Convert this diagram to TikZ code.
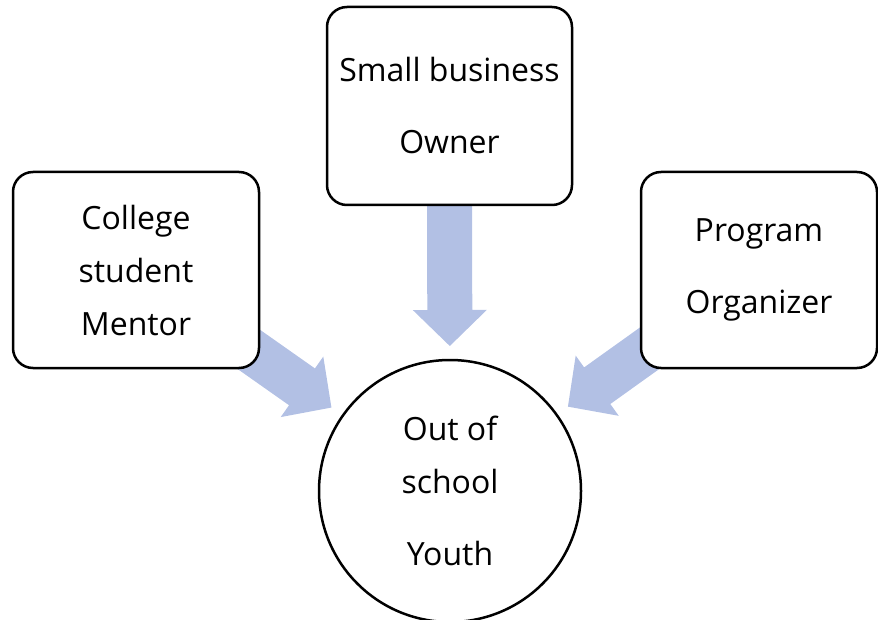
\documentclass[tikz,border=0pt]{standalone}
\usepackage{fontspec}
\setmainfont{Open Sans}
\usetikzlibrary{calc}
\pgfdeclarelayer{bg}
\pgfsetlayers{bg,main}
\definecolor{arrowfill}{RGB}{178,192,228}
\newcommand{\bigarrowfrom}[2]{%
  \coordinate (tip) at ($(#2.center)!145pt!(#1.center)$);
  \coordinate (hb) at ($(tip)!36pt!(#1.center)$);
  \fill[arrowfill]
    ($(#1.center)!22.5pt!90:(tip)$) -- ($(hb)!22.5pt!-90:(#1.center)$) --
    ($(hb)!37pt!-90:(#1.center)$) -- (tip) --
    ($(hb)!37pt!90:(#1.center)$) -- ($(hb)!22.5pt!90:(#1.center)$) --
    ($(#1.center)!22.5pt!-90:(tip)$) -- cycle;
}
\tikzset{
  box/.style={draw, fill=white, line width=2.5pt, rounded corners=20pt,
    inner sep=0pt, align=center, font=\fontsize{32}{53}\selectfont},
  circ/.style={draw, fill=white, circle, line width=2.5pt, minimum size=262pt,
    inner sep=0pt, align=center, font=\fontsize{32}{53}\selectfont}
}
\begin{document}
\begin{tikzpicture}[x=1pt,y=-1pt]
\useasboundingbox (0,0) rectangle (878,620);
\node[box, minimum width=246pt, minimum height=196pt] (mentor) at (136,270) {College\\student\\Mentor};
\node[box, minimum width=245pt, minimum height=198pt] (owner) at (449.5,106) {Small business\\[19pt]Owner};
\node[box, minimum width=236pt, minimum height=196pt] (organizer) at (759,270) {Program\\[19pt]Organizer};
\node[circ] (youth) at (450,491) {Out of\\school\\[19pt]Youth};
\begin{pgfonlayer}{bg}
\bigarrowfrom{mentor}{youth}
\bigarrowfrom{owner}{youth}
\bigarrowfrom{organizer}{youth}
\end{pgfonlayer}
\end{tikzpicture}
\end{document}
